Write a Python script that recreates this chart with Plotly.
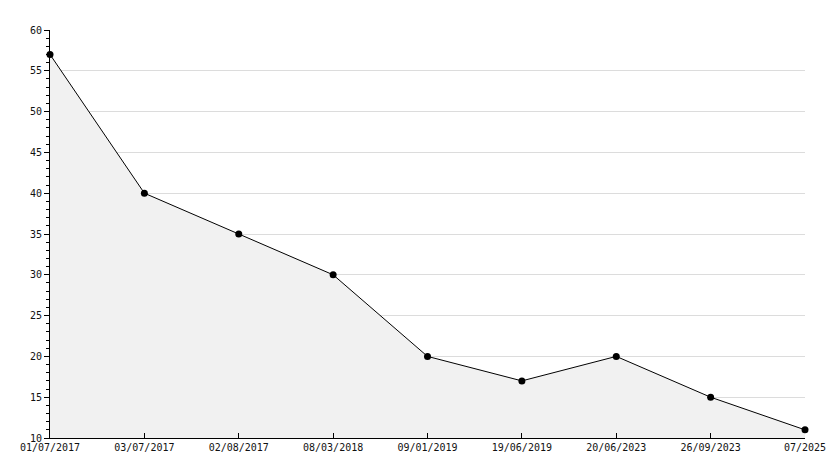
import plotly.graph_objects as go

dates = ["01/07/2017", "03/07/2017", "02/08/2017", "08/03/2018", "09/01/2019",
         "19/06/2019", "20/06/2023", "26/09/2023", "07/2025"]
values = [57, 40, 35, 30, 20, 17, 20, 15, 11]
idx = list(range(len(dates)))

fig = go.Figure()
fig.add_trace(go.Scatter(
    x=idx, y=values, mode="lines+markers",
    line=dict(color="black", width=1),
    marker=dict(color="black", size=7, symbol="circle"),
    fill="tozeroy", fillcolor="#f1f1f1",
    cliponaxis=False,
))

font = dict(family="DejaVu Sans Mono, monospace", size=10, color="#111")
fig.update_layout(
    width=826, height=460,
    margin=dict(l=42, r=29, t=22, b=30, autoexpand=False),
    paper_bgcolor="white", plot_bgcolor="white",
    showlegend=False,
    font=font,
    xaxis=dict(
        range=[0, len(dates) - 1], tickvals=idx, ticktext=dates,
        showgrid=False, zeroline=False, automargin=False,
        showline=True, linecolor="black", linewidth=1,
        ticks="inside", ticklen=5, tickcolor="black",
        tickfont=font,
    ),
    yaxis=dict(
        range=[10, 60], dtick=5, tick0=10, automargin=False,
        showgrid=True, gridcolor="#dcdcdc", gridwidth=1,
        zeroline=False,
        showline=True, linecolor="black", linewidth=1,
        ticks="outside", ticklen=5, tickcolor="black",
        minor=dict(dtick=1, ticks="outside", ticklen=3, tickcolor="black", showgrid=False),
        tickfont=font,
    ),
)
fig.write_html("out.html")
